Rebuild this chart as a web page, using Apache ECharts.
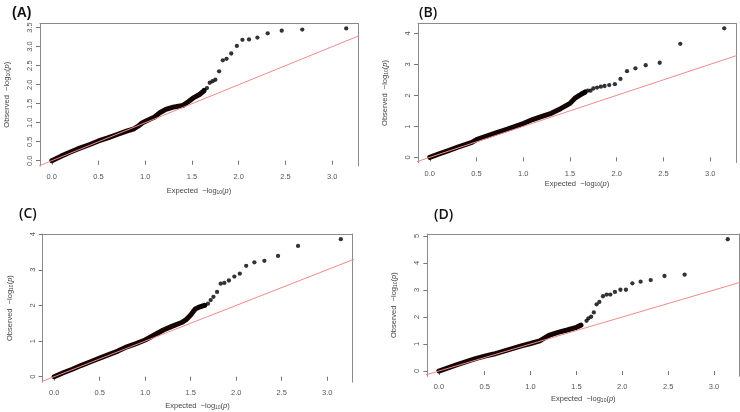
<!DOCTYPE html>
<html>
<head>
<meta charset="utf-8">
<script src="https://cdn.jsdelivr.net/npm/echarts@6/dist/echarts.min.js"></script>
<style>
html, body { margin: 0; padding: 0; background: #fff; }
#main { width: 740px; height: 412px; }
</style>
</head>
<body>
<div id="main"></div>
<script>
var dom = document.getElementById("main");
var chart = echarts.init(dom);

// tick labels
var xTicks = [0, 0.5, 1, 1.5, 2, 2.5, 3];
var yTicksA = [0, 0.5, 1, 1.5, 2, 2.5, 3, 3.5];
var yTicksB = [0, 1, 2, 3, 4];
var yTicksC = [0, 1, 2, 3, 4];
var yTicksD = [0, 1, 2, 3, 4, 5];

// expected -log10(p) of the sparse upper points (same for all panels)
var expTail = [3.15, 2.68, 2.46, 2.31, 2.2, 2.11, 2.04, 1.98, 1.92, 1.87, 1.83, 1.79, 1.75, 1.72, 1.69, 1.66, 1.63, 1.61];

// observed values of those points
var tailA = [3.48, 3.45, 3.42, 3.35, 3.24, 3.19, 3.18, 3.02, 2.82, 2.68, 2.64, 2.35, 2.13, 2.09, 2.05, 1.91, 1.86, 1.8];
var tailB = [4.16, 3.66, 3.05, 2.97, 2.87, 2.78, 2.53, 2.36, 2.33, 2.3, 2.28, 2.25, 2.22, 2.15, 2.15, 2.12, 2.07, 2.02];
var tailC = [3.86, 3.67, 3.39, 3.25, 3.21, 3.11, 2.89, 2.81, 2.7, 2.63, 2.61, 2.38, 2.24, 2.15, 2.05, 2.0, 1.98, 1.96];
var tailD = [4.88, 3.57, 3.52, 3.37, 3.31, 3.25, 3.01, 3.01, 2.93, 2.83, 2.83, 2.77, 2.56, 2.47, 2.17, 2.01, 1.95, 1.86];

// dense run of points, [expected, observed]
var bandA = [[0, 0], [0.1, 0.12], [0.2, 0.23], [0.3, 0.33], [0.4, 0.42], [0.5, 0.52], [0.6, 0.6], [0.7, 0.69],
  [0.8, 0.78], [0.88, 0.84], [0.93, 0.92], [0.97, 1.0], [1.02, 1.06], [1.1, 1.15], [1.16, 1.27], [1.22, 1.35],
  [1.3, 1.41], [1.4, 1.45], [1.46, 1.55], [1.52, 1.66], [1.58, 1.74], [1.63, 1.84]];
var bandB = [[0, 0], [0.1, 0.11], [0.2, 0.22], [0.3, 0.33], [0.45, 0.48], [0.5, 0.57], [0.6, 0.68], [0.7, 0.78],
  [0.8, 0.88], [0.9, 0.98], [1.0, 1.09], [1.1, 1.22], [1.2, 1.32], [1.3, 1.42], [1.4, 1.57], [1.5, 1.74],
  [1.55, 1.9], [1.6, 2.0], [1.66, 2.1]];
var bandC = [[0, 0], [0.1, 0.11], [0.2, 0.21], [0.3, 0.32], [0.4, 0.42], [0.5, 0.52], [0.6, 0.62], [0.7, 0.72],
  [0.8, 0.84], [0.9, 0.93], [1.0, 1.03], [1.1, 1.17], [1.2, 1.31], [1.3, 1.42], [1.4, 1.52], [1.45, 1.6],
  [1.5, 1.73], [1.55, 1.9], [1.6, 1.96], [1.65, 2.0]];
var bandD = [[0, 0], [0.1, 0.12], [0.2, 0.24], [0.3, 0.35], [0.4, 0.46], [0.5, 0.55], [0.6, 0.63], [0.7, 0.73],
  [0.8, 0.83], [0.9, 0.93], [1.0, 1.02], [1.1, 1.12], [1.2, 1.32], [1.3, 1.43], [1.4, 1.52], [1.5, 1.62],
  [1.55, 1.7]];

// y = x reference
var refLine = [[-1, -1], [6, 6]];

var panels = [
  { name: "(A)", band: bandA, tail: tailA, yTicks: yTicksA, yMin: -0.139, yMax: 3.609, dec: 1,
    grid: { left: 40, top: 23.5, width: 318, height: 142.5 }, title: { left: 7, top: 1 }, bold: true, xGap: 21 },
  { name: "(B)", band: bandB, tail: tailB, yTicks: yTicksB, yMin: -0.166, yMax: 4.316, dec: 0,
    grid: { left: 418, top: 23.5, width: 318, height: 139 }, title: { left: 414, top: 1 }, bold: false, xGap: 17 },
  { name: "(C)", band: bandC, tail: tailC, yTicks: yTicksC, yMin: -0.154, yMax: 4.004, dec: 0,
    grid: { left: 42.7, top: 234, width: 309.6, height: 148.2 }, title: { left: 14, top: 202 }, bold: false, xGap: 20 },
  { name: "(D)", band: bandD, tail: tailD, yTicks: yTicksD, yMin: -0.195, yMax: 5.075, dec: 0,
    grid: { left: 427.3, top: 234, width: 312, height: 142.3 }, title: { left: 429, top: 203 }, bold: false, xGap: 19 }
];

var boxColor = "#8a8a8a";
var labelStyle = { fontFamily: "Liberation Sans", fontSize: 7.5, color: "#555" };
var nameRich = {
  a: { fontFamily: "Liberation Sans", fontSize: 7.5, color: "#444" },
  s: { fontFamily: "Liberation Sans", fontSize: 5, color: "#444", verticalAlign: "bottom", padding: [3, 0, 0, 0] },
  i: { fontFamily: "Liberation Sans", fontSize: 7.5, color: "#444", fontStyle: "italic" }
};

var titles = [], grids = [], xAxes = [], yAxes = [], series = [];

panels.forEach(function (p, k) {
  titles.push({
    text: p.name,
    left: p.title.left,
    top: p.title.top,
    textStyle: {
      fontFamily: p.bold ? "Liberation Sans" : "Open Sans",
      fontSize: 14,
      fontWeight: p.bold ? "bold" : 600,
      color: "#111"
    }
  });
  grids.push({
    left: p.grid.left, top: p.grid.top, width: p.grid.width, height: p.grid.height
  });
  var xi = xAxes.length, yi = yAxes.length;
  xAxes.push({
    type: "value", gridIndex: k, min: -0.126, max: 3.276,
    splitLine: { show: false }, axisLine: { show: false },
    axisTick: { show: true, length: 4, customValues: xTicks, lineStyle: { color: "#777" } },
    axisLabel: Object.assign({ margin: 7, customValues: xTicks,
      formatter: function (v) { return v.toFixed(1); } }, labelStyle),
    name: "{a|Expected  −log}{s|10}{a|(}{i|p}{a|)}",
    nameLocation: "middle", nameGap: p.xGap,
    nameTextStyle: { rich: nameRich }
  });
  // top edge of the box
  xAxes.push({
    type: "value", gridIndex: k, position: "top", min: -0.126, max: 3.276,
    splitLine: { show: false }, axisTick: { show: false }, axisLabel: { show: false },
    axisLine: { show: true, onZero: false, lineStyle: { color: boxColor, width: 1 } }
  });
  yAxes.push({
    type: "value", gridIndex: k, min: p.yMin, max: p.yMax,
    splitLine: { show: false },
    axisLine: { show: true, onZero: false, lineStyle: { color: boxColor, width: 1 } },
    axisTick: { show: true, length: 4, customValues: p.yTicks, lineStyle: { color: "#777" } },
    axisLabel: Object.assign({ margin: 6, rotate: 90, customValues: p.yTicks,
      formatter: (function (d) { return function (v) { return v.toFixed(d); }; })(p.dec) }, labelStyle),
    name: "{a|Observed  −log}{s|10}{a|(}{i|p}{a|)}",
    nameLocation: "middle", nameRotate: 90, nameGap: 29,
    nameTextStyle: { rich: nameRich }
  });
  // right edge of the box
  yAxes.push({
    type: "value", gridIndex: k, position: "right", min: p.yMin, max: p.yMax,
    splitLine: { show: false }, axisTick: { show: false }, axisLabel: { show: false },
    axisLine: { show: true, onZero: false, lineStyle: { color: boxColor, width: 1 } }
  });
  series.push({
    type: "line", xAxisIndex: xi, yAxisIndex: yi, data: p.band,
    symbol: "none", silent: true, z: 2,
    lineStyle: { color: "#140404", width: 5, cap: "round", join: "round" }
  });
  series.push({
    type: "scatter", xAxisIndex: xi, yAxisIndex: yi,
    data: expTail.map(function (x, i) { return [x, p.tail[i]]; }),
    symbolSize: 4.3, silent: true, z: 2,
    itemStyle: { color: "#000" }
  });
  series.push({
    type: "line", xAxisIndex: xi, yAxisIndex: yi, data: refLine,
    symbol: "none", silent: true, clip: true, z: 3,
    lineStyle: { color: "#ef8a8a", width: 1 }
  });
});

chart.setOption({
  animation: false,
  title: titles,
  grid: grids,
  xAxis: xAxes,
  yAxis: yAxes,
  series: series
});
</script>
</body>
</html>
